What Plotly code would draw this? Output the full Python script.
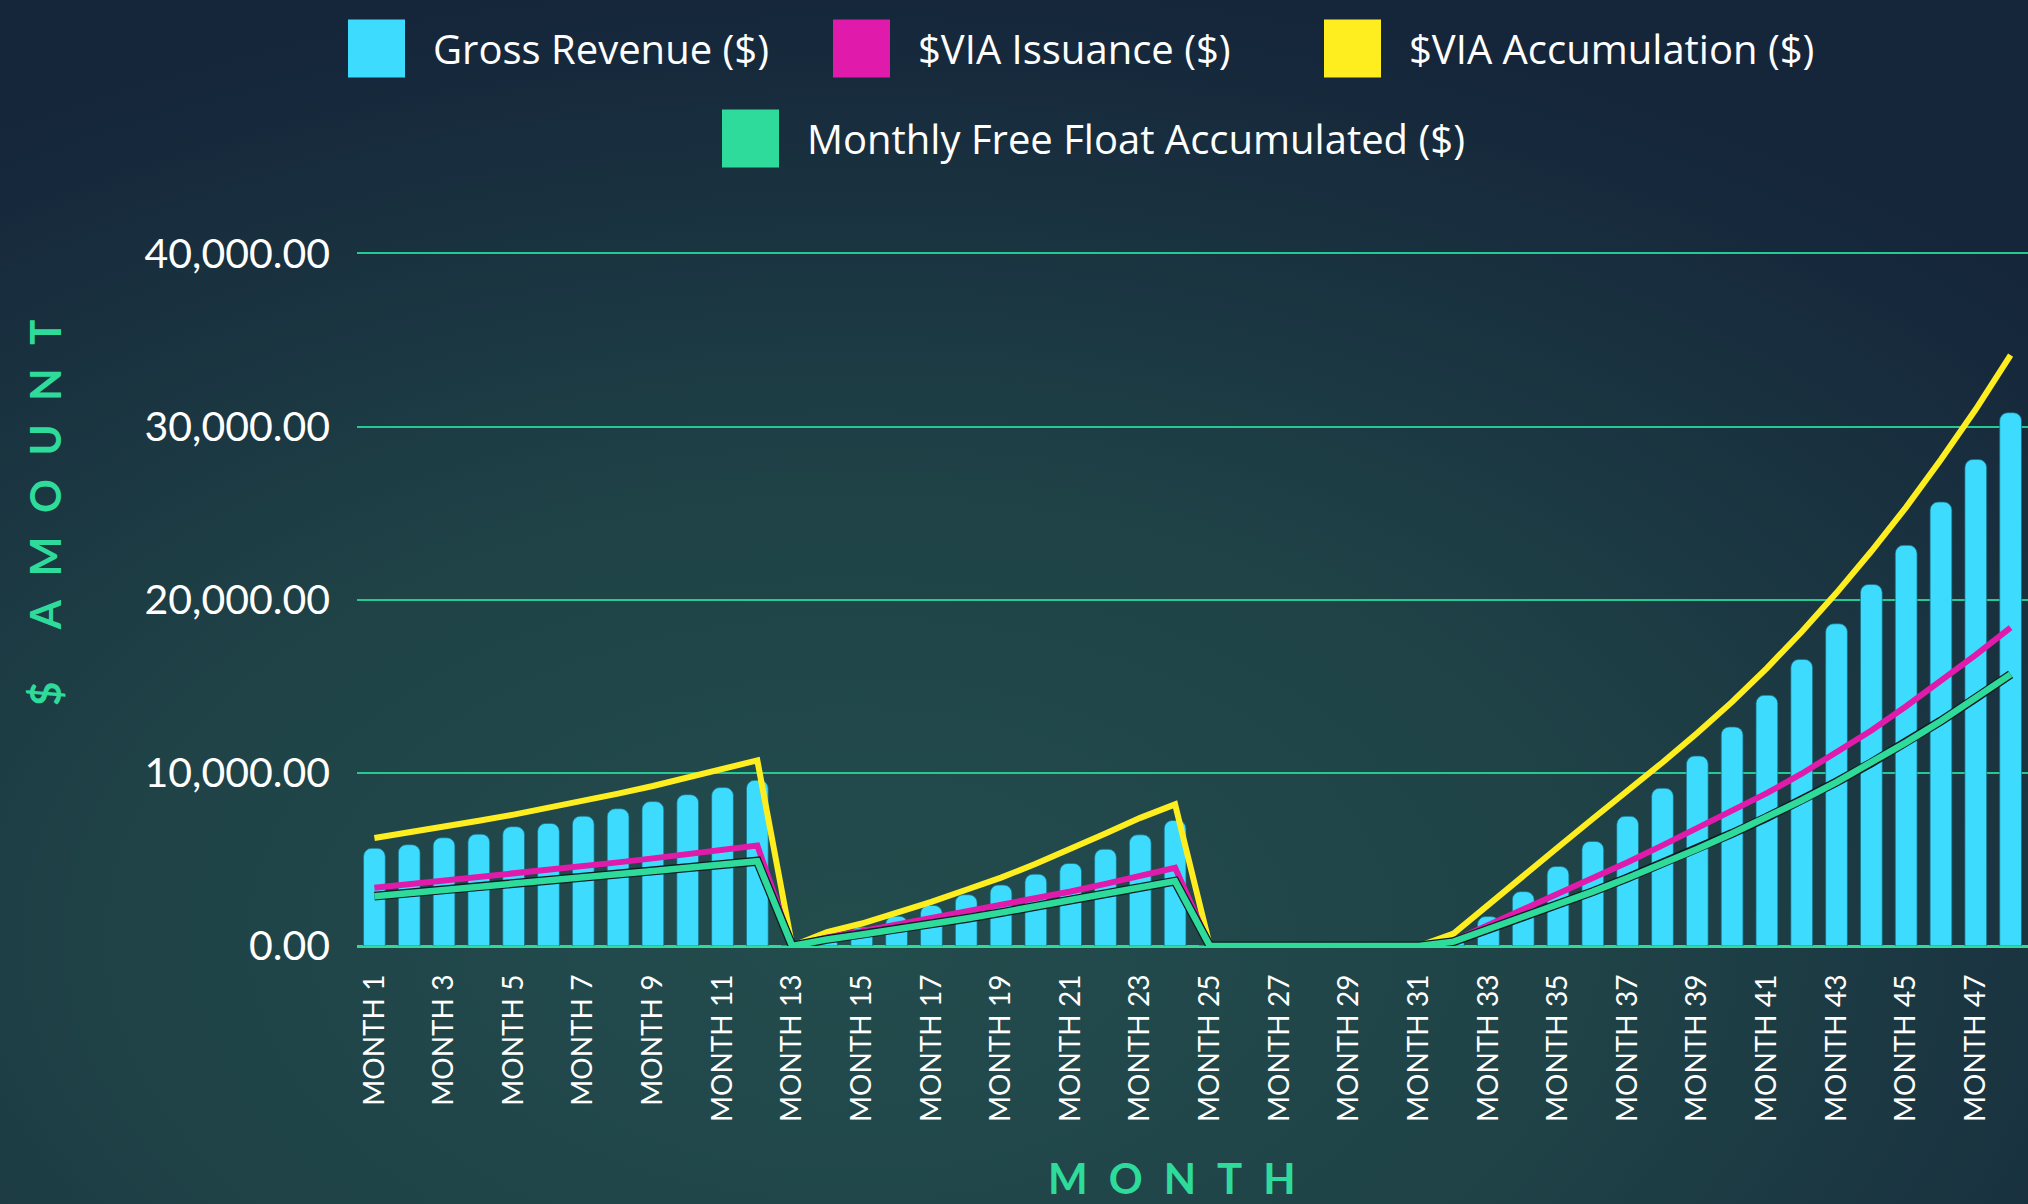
import base64
import plotly.graph_objects as go

# ---------------- data ----------------
months = [f"MONTH {i}" for i in range(1, 49)]

gross_revenue = [
    5640, 5850, 6250, 6460, 6890, 7080, 7500, 7930, 8340, 8740, 9150, 9570,
    0, 400, 1080, 1720, 2340, 2960, 3520, 4150, 4770, 5590, 6420, 7250,
    0, 0, 0, 0, 0, 0, 0,
    400, 1700, 3140, 4590, 6040, 7490, 9110, 10970, 12650, 14480, 16550,
    18610, 20880, 23140, 25640, 28100, 30800,
]

via_issuance = [
    3360, 3560, 3760, 3970, 4180, 4390, 4610, 4830, 5060, 5300, 5550, 5810,
    0, 500, 850, 1220, 1590, 1960, 2340, 2730, 3150, 3590, 4050, 4520,
    0, 0, 0, 0, 0, 0, 0,
    300, 1200, 2080, 2980, 3900, 4840, 5810, 6800, 7800, 8830, 9950,
    11150, 12450, 13850, 15300, 16820, 18390,
]

via_accumulation = [
    6240, 6550, 6880, 7230, 7590, 7980, 8380, 8800, 9240, 9710, 10200, 10720,
    0, 800, 1300, 1900, 2550, 3250, 3950, 4750, 5600, 6500, 7400, 8180,
    0, 0, 0, 0, 0, 0, 0,
    720, 2410, 4030, 5700, 7350, 8950, 10600, 12300, 14100, 16050, 18150,
    20400, 22800, 25350, 28100, 31000, 34130,
]

free_float = [
    2880, 3050, 3220, 3400, 3580, 3760, 3950, 4140, 4330, 4520, 4710, 4900,
    0, 380, 660, 950, 1260, 1590, 1930, 2290, 2660, 3030, 3390, 3745,
    0, 0, 0, 0, 0, 0, 0,
    250, 950, 1650, 2380, 3140, 3930, 4750, 5600, 6500, 7430, 8420,
    9470, 10580, 11760, 13000, 14320, 15690,
]

series_names = [
    "Gross Revenue ($)",
    "$VIA Issuance ($)",
    "$VIA Accumulation ($)",
    "Monthly Free Float Accumulated ($)",
]
y_ticks = [0, 10000, 20000, 30000, 40000]
x_title = "MONTH"
y_title = "$ AMOUNT"

# ---------------- style ----------------
CYAN = "#3ddcff"
MAGENTA = "#e01aab"
YELLOW = "#ffee1f"
GREEN = "#2edb9b"
GRID = "#27c993"

W, H = 2028, 1204
L, R, T, B = 357, 0, 250, 258
PW, PH = W - L - R, H - T - B
Y_MAX = 40200


def px(xp):
    return (xp - L) / PW


def py(yp):
    return (H - B - yp) / PH


fig = go.Figure()
fig.add_bar(
    x=months, y=gross_revenue, name=series_names[0],
    marker=dict(color=CYAN, cornerradius=8,
                line=dict(width=1, color="rgba(25,110,130,0.7)")),
)
fig.add_scatter(x=months, y=via_accumulation, name=series_names[2], mode="lines",
                line=dict(color=YELLOW, width=6))
fig.add_scatter(x=months, y=via_issuance, name=series_names[1], mode="lines",
                line=dict(color=MAGENTA, width=6))
fig.add_scatter(x=months, y=free_float, name=series_names[3] + " outline", mode="lines",
                line=dict(color="#0c1c20", width=9), hoverinfo="skip", showlegend=False)
fig.add_scatter(x=months, y=free_float, name=series_names[3], mode="lines",
                line=dict(color=GREEN, width=6.5))

# background gradient as svg image
svg = (
    f'<svg xmlns="http://www.w3.org/2000/svg" width="{W}" height="{H}" '
    f'viewBox="0 0 {W} {H}" preserveAspectRatio="none"><defs>'
    '<radialGradient id="g" cx="0.42" cy="0.78" r="0.8">'
    '<stop offset="0" stop-color="#234c4d"/>'
    '<stop offset="0.45" stop-color="#1f4347"/>'
    '<stop offset="1" stop-color="#15253a"/>'
    '</radialGradient></defs>'
    f'<rect width="{W}" height="{H}" fill="url(#g)"/></svg>'
)
src = "data:image/svg+xml;base64," + base64.b64encode(svg.encode()).decode()
fig.add_layout_image(
    source=src, xref="paper", yref="paper", x=px(0), y=py(0),
    sizex=W / PW, sizey=H / PH, xanchor="left", yanchor="top",
    sizing="stretch", layer="below",
)

# custom legend
legend_items = [
    (series_names[0], CYAN, 348, 48.5),
    (series_names[1], MAGENTA, 833, 48.5),
    (series_names[2], YELLOW, 1324, 48.5),
    (series_names[3], GREEN, 722, 138.5),
]
for name, col, x0, yc in legend_items:
    fig.add_shape(type="rect", xref="paper", yref="paper",
                  x0=px(x0), x1=px(x0 + 57), y0=py(yc - 29), y1=py(yc + 29),
                  fillcolor=col, line=dict(width=0))
    fig.add_annotation(text=name, xref="paper", yref="paper",
                       x=px(x0 + 83), y=py(yc), xanchor="left", yanchor="middle",
                       showarrow=False, font=dict(family="Open Sans", size=40, color="white"))

sp = "\u2002\u200a"
fig.add_annotation(text="$" + "\u2003\u2002" + sp.join(list("AMOUNT")),
                   xref="paper", yref="paper", x=px(45), y=py(513),
                   textangle=-90, showarrow=False, xanchor="center", yanchor="middle",
                   font=dict(family="Lato", size=42, color=GREEN, weight="bold"))
fig.add_annotation(text="\u2002".join(list(x_title)),
                   xref="paper", yref="paper", x=px(1172), y=py(1178),
                   showarrow=False, xanchor="center", yanchor="middle",
                   font=dict(family="Lato", size=42, color=GREEN, weight="bold"))

fig.update_layout(
    width=W, height=H,
    margin=dict(l=L, r=R, t=T, b=B, pad=0),
    paper_bgcolor="#1b3540",
    plot_bgcolor="rgba(0,0,0,0)",
    showlegend=False,
    bargap=0.376,
    font=dict(family="Lato", color="white"),
    xaxis=dict(
        type="category", tickmode="array", tickvals=months[::2], ticktext=months[::2],
        tickangle=-90, tickfont=dict(size=28, color="white", family="Lato"),
        showgrid=False, showline=False, zeroline=False, ticks="",
        ticklabelstandoff=22,
    ),
    yaxis=dict(
        range=[0, Y_MAX], tickmode="array", tickvals=y_ticks, tickformat=",.2f",
        tickfont=dict(size=41, color="white", family="Lato"),
        showgrid=True, gridcolor=GRID, gridwidth=1.5,
        zeroline=True, zerolinecolor=GREEN, zerolinewidth=3,
        showline=False, ticks="", ticklabelstandoff=26,
    ),
)

fig.write_html(
    "out.html",
    config={"displayModeBar": False},
    post_script="document.body.style.margin='0';document.body.style.overflow='hidden';",
)
